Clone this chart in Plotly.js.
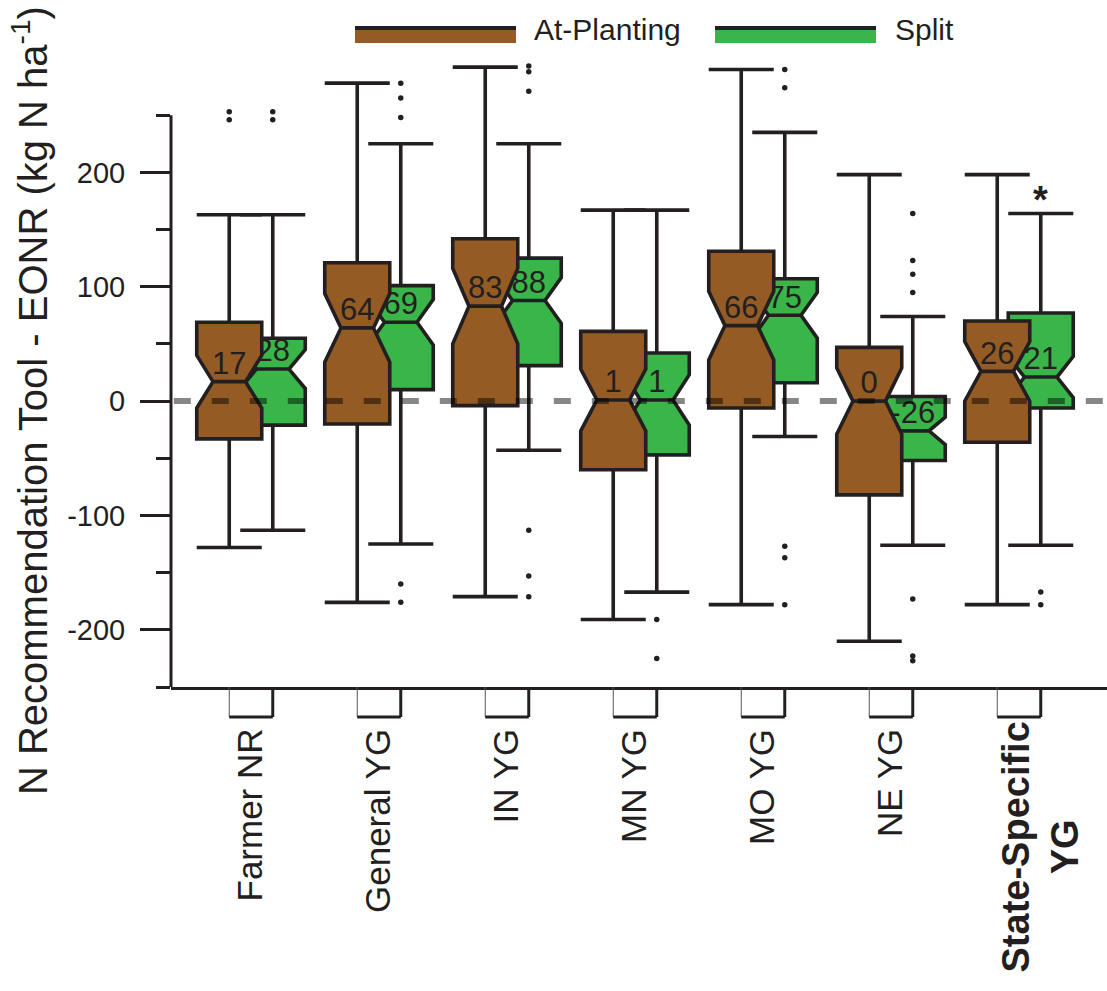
<!DOCTYPE html>
<html><head><meta charset="utf-8">
<script src="https://cdn.plot.ly/plotly-3.0.1.min.js"></script>
<style>html,body{margin:0;padding:0;background:#fff}</style>
</head><body><div id="chart" style="width:1107px;height:991px"></div>
<script>
// ---------------- data ----------------
const categories = ["Farmer NR", "General YG", "IN YG", "MN YG", "MO YG", "NE YG", "State-Specific YG"];
const tickLabels = ["Farmer NR", "General YG", "IN YG", "MN YG", "MO YG", "NE YG", "<b>State-Specific<br>YG</b>"];
const seriesNames = ["At-Planting", "Split"];

// At-Planting
const apUpper  = [163, 278, 292, 167, 290, 198, 198];
const apQ3     = [69, 121, 142, 61, 131, 47, 70];
const apMedian = [17, 64, 83, 1, 66, 0, 26];
const apQ1     = [-33, -20, -4, -60, -6, -82, -36];
const apLower  = [-128, -176, -171, -191, -178, -210, -178];
const apNotch  = [23, 30, 33, 27, 30, 29, 26];
const apOutCat = ["Farmer NR", "Farmer NR"];
const apOutVal = [253, 246];

// Split
const spUpper  = [163, 225, 225, 167, 235, 74, 164];
const spQ3     = [55, 101, 125, 42, 107, 4, 77];
const spMedian = [28, 69, 88, 1, 75, -26, 21];
const spQ1     = [-21, 10, 31, -47, 16, -52, -6];
const spLower  = [-113, -125, -43, -167, -31, -126, -126];
const spNotch  = [17, 20, 20, 22, 20, 12, 18];
const spOutCat = ["Farmer NR", "Farmer NR",
  "General YG", "General YG", "General YG", "General YG", "General YG",
  "IN YG", "IN YG", "IN YG", "IN YG", "IN YG", "IN YG",
  "MN YG", "MN YG",
  "MO YG", "MO YG", "MO YG", "MO YG", "MO YG",
  "NE YG", "NE YG", "NE YG", "NE YG", "NE YG", "NE YG", "NE YG",
  "State-Specific YG", "State-Specific YG"];
const spOutVal = [253, 246,
  278, 265, 248, -160, -176,
  293, 288, 271, -113, -153, -171,
  -191, -225,
  290, 274, -127, -137, -178,
  164, 123, 111, 95, -173, -223, -227,
  -167, -178];

const starCategory = "State-Specific YG";
const starText = "*";
const yTickVals = [-200, -100, 0, 100, 200];
const yMinorVals = [-250, -150, -50, 50, 150, 250];
const yTitle = "N Recommendation Tool - EONR (kg N ha<sup>-1</sup>)";

// ---------------- styling ----------------
const INK = "#231F20";
const BROWN = "#955B24";
const GREEN = "#3AB54A";
const FONT = "Liberation Sans, Arial, Helvetica, sans-serif";
const W = 1107, H = 991;
const L = 171, R = 0, T = 58, B = 304;
const PW = W - L - R, PH = H - T - B;
const OFF = 0.17, BOXW = 0.508;
const px2x = p => (p - L) / PW;
const py2y = p => (T + PH - p) / PH;
const idx = c => categories.indexOf(c);

function boxTrace(name, off, q1, med, q3, lo, hi, notch, color, yaxis) {
  return {
    type: "box", name: name, yaxis: yaxis,
    x: categories.map((c, i) => i + off),
    q1: q1, median: med, q3: q3, lowerfence: lo, upperfence: hi,
    notched: true, notchspan: notch, notchwidth: 0.25,
    width: BOXW, whiskerwidth: 1, boxpoints: false,
    fillcolor: color, line: {color: INK, width: 3.6},
    showlegend: false, hoverinfo: "skip"
  };
}
function outTrace(off, cats, vals, yaxis) {
  return {type: "scatter", mode: "markers", yaxis: yaxis,
    x: cats.map(c => idx(c) + off), y: vals,
    marker: {color: INK, size: 5.5}, showlegend: false, hoverinfo: "skip"};
}
function labelTrace(off, med, yaxis) {
  return {type: "scatter", mode: "text", yaxis: yaxis,
    x: categories.map((c, i) => i + off), y: med,
    text: med.map(v => String(v)), textposition: "top center",
    textfont: {family: FONT, size: 31, color: INK},
    showlegend: false, hoverinfo: "skip", cliponaxis: false};
}

const data = [
  boxTrace(seriesNames[1], OFF, spQ1, spMedian, spQ3, spLower, spUpper, spNotch, GREEN, "y"),
  outTrace(OFF, spOutCat, spOutVal, "y"),
  labelTrace(OFF, spMedian, "y"),
  boxTrace(seriesNames[0], -OFF, apQ1, apMedian, apQ3, apLower, apUpper, apNotch, BROWN, "y2"),
  outTrace(-OFF, apOutCat, apOutVal, "y2"),
  labelTrace(-OFF, apMedian, "y2")
];

const shapes = [];
// y axis line (only -250..250)
shapes.push({type: "line", xref: "paper", yref: "y", x0: 0, x1: 0, y0: -250, y1: 250,
  line: {color: INK, width: 3}});
// zero reference line
shapes.push({type: "line", xref: "paper", yref: "y", x0: 0.003, x1: 1, y0: 0, y1: 0,
  line: {color: "rgba(0,0,0,0.47)", width: 6, dash: "17px,21px"}, layer: "above"});
// bracket ticks under x axis
const brY = py2y(717);
categories.forEach((c, i) => {
  shapes.push({type: "line", xref: "x", yref: "paper", x0: i - OFF, x1: i - OFF, y0: 0, y1: brY,
    line: {color: "#555", width: 1}});
  shapes.push({type: "line", xref: "x", yref: "paper", x0: i + OFF, x1: i + OFF, y0: 0, y1: brY,
    line: {color: INK, width: 3}});
  shapes.push({type: "line", xref: "x", yref: "paper", x0: i - OFF, x1: i + OFF, y0: brY, y1: brY,
    line: {color: INK, width: 3}});
});
// legend swatches
const legItems = [
  {name: seriesNames[0], color: BROWN, x0: 355, x1: 516, tx: 532},
  {name: seriesNames[1], color: GREEN, x0: 715, x1: 876, tx: 893}
];
const annotations = [];
legItems.forEach(it => {
  shapes.push({type: "rect", xref: "paper", yref: "paper", x0: px2x(it.x0), x1: px2x(it.x1),
    y0: py2y(43), y1: py2y(30), fillcolor: it.color, line: {width: 0}});
  shapes.push({type: "line", xref: "paper", yref: "paper", x0: px2x(it.x0), x1: px2x(it.x1),
    y0: py2y(28), y1: py2y(28), line: {color: INK, width: 4}});
  annotations.push({xref: "paper", yref: "paper", x: px2x(it.tx), y: py2y(29), xanchor: "left", yanchor: "middle",
    text: it.name, showarrow: false, font: {family: FONT, size: 30, color: INK}});
});
// category labels (rotated)
tickLabels.forEach((t, i) => {
  const multi = t.indexOf("<br>") >= 0;
  annotations.push({xref: "x", yref: "paper", x: i, y: py2y(multi ? 720 : 727),
    xanchor: "center", yanchor: "top", xshift: multi ? 21 : -2,
    text: t, textangle: -90, align: "center", showarrow: false,
    font: {family: FONT, size: multi ? 38 : 35, color: INK}});
});
// y title
annotations.push({xref: "paper", yref: "y", x: px2x(30), y: 0, xanchor: "center", yanchor: "middle",
  text: yTitle, textangle: -90, showarrow: false, font: {family: FONT, size: 40, color: INK}});
// significance star
const si = idx(starCategory);
annotations.push({xref: "x", yref: "y", x: si + OFF, y: spUpper[si], xanchor: "center", yanchor: "bottom",
  yshift: -9, text: "<b>" + starText + "</b>", showarrow: false, font: {family: FONT, size: 38, color: INK}});

const layout = {
  width: W, height: H,
  margin: {l: L, r: R, t: T, b: B, pad: 0},
  paper_bgcolor: "#fff", plot_bgcolor: "rgba(0,0,0,0)",
  font: {family: FONT, color: INK},
  showlegend: false,
  xaxis: {
    range: [-0.625, 6.6875], tickmode: "array",
    tickvals: categories.map((c, i) => i),
    ticks: "", showticklabels: false,
    showline: true, linewidth: 3, linecolor: INK,
    showgrid: false, zeroline: false, fixedrange: true
  },
  yaxis: {
    range: [-250, 300], tickmode: "array",
    tickvals: yTickVals, ticktext: yTickVals.map(v => String(v)),
    ticks: "outside", ticklen: 30, tickwidth: 3, tickcolor: INK,
    tickfont: {family: FONT, size: 29, color: INK}, ticklabelstandoff: 9,
    minor: {tickvals: yMinorVals, ticks: "outside", ticklen: 14, tickwidth: 3, tickcolor: INK, showgrid: false},
    showline: false, showgrid: false, zeroline: false, fixedrange: true
  },
  yaxis2: {
    range: [-250, 300], overlaying: "y", visible: false, fixedrange: true
  },
  shapes: shapes,
  annotations: annotations
};

Plotly.newPlot("chart", data, layout, {displayModeBar: false, staticPlot: true});
</script>
</body></html>
